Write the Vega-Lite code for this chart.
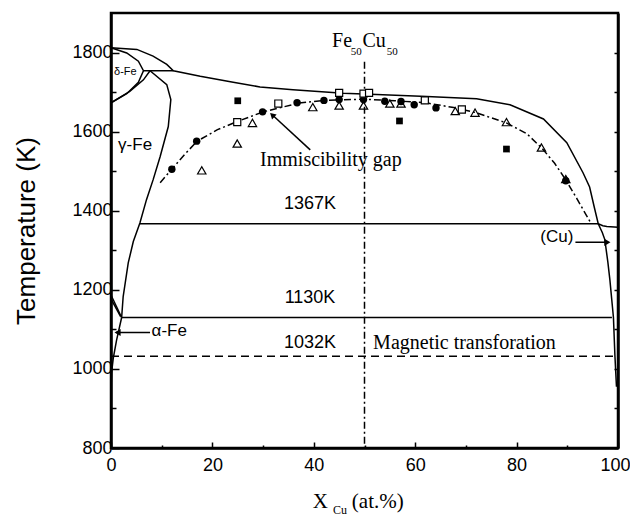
{
  "$schema": "https://vega.github.io/schema/vega-lite/v6.json",
  "width": 507,
  "height": 435,
  "autosize": {"type": "none"},
  "padding": {"left": 111, "top": 13, "right": 12, "bottom": 71},
  "background": "white",
  "config": {
    "view": {"stroke": "black", "strokeWidth": 2.5},
    "axis": {"grid": false, "domainColor": "black", "domainWidth": 2.5, "tickColor": "black", "tickWidth": 1.5, "labelColor": "black", "labelFont": "Liberation Sans", "labelFontSize": 18, "titleColor": "black", "titleFont": "Liberation Sans", "titleFontWeight": "normal", "labelFlush": false, "labelOverlap": false}
  },
  "datasets": {
    "solid": [
      {"id": "liq", "o": 1, "x": 0, "t": 1812}, {"id": "liq", "o": 2, "x": 5.1, "t": 1808}, {"id": "liq", "o": 3, "x": 8.3, "t": 1791}, {"id": "liq", "o": 4, "x": 11.0, "t": 1770}, {"id": "liq", "o": 5, "x": 12.3, "t": 1754}, {"id": "liq", "o": 6, "x": 17.6, "t": 1740}, {"id": "liq", "o": 7, "x": 24.1, "t": 1725}, {"id": "liq", "o": 8, "x": 29.4, "t": 1713}, {"id": "liq", "o": 9, "x": 35.9, "t": 1706}, {"id": "liq", "o": 10, "x": 45.8, "t": 1697}, {"id": "liq", "o": 11, "x": 52.4, "t": 1694}, {"id": "liq", "o": 12, "x": 62.3, "t": 1689}, {"id": "liq", "o": 13, "x": 72.1, "t": 1683}, {"id": "liq", "o": 14, "x": 78.7, "t": 1668}, {"id": "liq", "o": 15, "x": 85.3, "t": 1632}, {"id": "liq", "o": 16, "x": 89.9, "t": 1572}, {"id": "liq", "o": 17, "x": 93.1, "t": 1496}, {"id": "liq", "o": 18, "x": 94.4, "t": 1460}, {"id": "liq", "o": 19, "x": 95.3, "t": 1410}, {"id": "liq", "o": 20, "x": 96.1, "t": 1367}, {"id": "liq", "o": 21, "x": 97.0, "t": 1362}, {"id": "liq", "o": 22, "x": 97.8, "t": 1360}, {"id": "liq", "o": 23, "x": 100, "t": 1358},
      {"id": "per", "o": 1, "x": 6.4, "t": 1754}, {"id": "per", "o": 2, "x": 12.3, "t": 1754},
      {"id": "del", "o": 1, "x": 0, "t": 1812}, {"id": "del", "o": 2, "x": 3.1, "t": 1799}, {"id": "del", "o": 3, "x": 5.4, "t": 1778}, {"id": "del", "o": 4, "x": 6.4, "t": 1754}, {"id": "del", "o": 5, "x": 5.4, "t": 1725}, {"id": "del", "o": 6, "x": 3.1, "t": 1696}, {"id": "del", "o": 7, "x": 0, "t": 1673},
      {"id": "dg", "o": 1, "x": 0, "t": 1673}, {"id": "dg", "o": 2, "x": 3.7, "t": 1702}, {"id": "dg", "o": 3, "x": 6.4, "t": 1731}, {"id": "dg", "o": 4, "x": 7.7, "t": 1754},
      {"id": "gam", "o": 1, "x": 7.7, "t": 1754}, {"id": "gam", "o": 2, "x": 11.0, "t": 1719}, {"id": "gam", "o": 3, "x": 11.8, "t": 1681}, {"id": "gam", "o": 4, "x": 11.3, "t": 1613}, {"id": "gam", "o": 5, "x": 9.7, "t": 1537}, {"id": "gam", "o": 6, "x": 8.3, "t": 1478}, {"id": "gam", "o": 7, "x": 7.0, "t": 1428}, {"id": "gam", "o": 8, "x": 5.7, "t": 1369}, {"id": "gam", "o": 9, "x": 4.4, "t": 1322}, {"id": "gam", "o": 10, "x": 3.4, "t": 1268}, {"id": "gam", "o": 11, "x": 2.4, "t": 1183}, {"id": "gam", "o": 12, "x": 2.1, "t": 1130},
      {"id": "ag1", "o": 1, "x": 0, "t": 1187}, {"id": "ag1", "o": 2, "x": 2.1, "t": 1130},
      {"id": "ag2", "o": 1, "x": 0, "t": 1177}, {"id": "ag2", "o": 2, "x": 1.9, "t": 1132},
      {"id": "alp", "o": 1, "x": 2.1, "t": 1130}, {"id": "alp", "o": 2, "x": 1.1, "t": 1073}, {"id": "alp", "o": 3, "x": 0.45, "t": 1027}, {"id": "alp", "o": 4, "x": 0.1, "t": 989}, {"id": "alp", "o": 5, "x": 0, "t": 940},
      {"id": "h1367", "o": 1, "x": 5.7, "t": 1367}, {"id": "h1367", "o": 2, "x": 96.1, "t": 1367},
      {"id": "h1130", "o": 1, "x": 2.1, "t": 1130}, {"id": "h1130", "o": 2, "x": 98.8, "t": 1130},
      {"id": "cus", "o": 1, "x": 96.1, "t": 1367}, {"id": "cus", "o": 2, "x": 96.9, "t": 1345}, {"id": "cus", "o": 3, "x": 97.4, "t": 1327}, {"id": "cus", "o": 4, "x": 98.0, "t": 1270}, {"id": "cus", "o": 5, "x": 98.4, "t": 1225}, {"id": "cus", "o": 6, "x": 99.1, "t": 1130}, {"id": "cus", "o": 7, "x": 99.4, "t": 1031}, {"id": "cus", "o": 8, "x": 99.7, "t": 955},
      {"id": "arA", "o": 1, "x": 7.7, "t": 1092}, {"id": "arA", "o": 2, "x": 1.0, "t": 1092},
      {"id": "arC", "o": 1, "x": 91.6, "t": 1320}, {"id": "arC", "o": 2, "x": 98.0, "t": 1320},
      {"id": "arI", "o": 1, "x": 39.3, "t": 1554}, {"id": "arI", "o": 2, "x": 32.0, "t": 1640}
    ],
    "dashed": [
      {"id": "mag", "o": 1, "x": 0, "t": 1032}, {"id": "mag", "o": 2, "x": 99.4, "t": 1032}
    ],
    "dashdot": [
      {"id": "v50", "o": 1, "x": 50, "t": 1777}, {"id": "v50", "o": 2, "x": 50, "t": 800},
      {"id": "gap", "o": 1, "x": 9.7, "t": 1471}, {"id": "gap", "o": 2, "x": 12, "t": 1505}, {"id": "gap", "o": 3, "x": 14.5, "t": 1542}, {"id": "gap", "o": 4, "x": 17, "t": 1576}, {"id": "gap", "o": 5, "x": 21, "t": 1605}, {"id": "gap", "o": 6, "x": 25, "t": 1626}, {"id": "gap", "o": 7, "x": 30, "t": 1650}, {"id": "gap", "o": 8, "x": 37, "t": 1672}, {"id": "gap", "o": 9, "x": 42, "t": 1679}, {"id": "gap", "o": 10, "x": 50, "t": 1682}, {"id": "gap", "o": 11, "x": 56, "t": 1678}, {"id": "gap", "o": 12, "x": 62, "t": 1673}, {"id": "gap", "o": 13, "x": 68, "t": 1660}, {"id": "gap", "o": 14, "x": 72, "t": 1648}, {"id": "gap", "o": 15, "x": 78, "t": 1622}, {"id": "gap", "o": 16, "x": 82, "t": 1595}, {"id": "gap", "o": 17, "x": 85, "t": 1558}, {"id": "gap", "o": 18, "x": 87.5, "t": 1520}, {"id": "gap", "o": 19, "x": 89.7, "t": 1478}, {"id": "gap", "o": 20, "x": 92, "t": 1428}, {"id": "gap", "o": 21, "x": 94.5, "t": 1372}
    ],
    "heads": [
      {"id": "A", "x": 1.3, "t": 1092},
      {"id": "C", "x": 97.9, "t": 1320},
      {"id": "I", "x": 31.8, "t": 1642}
    ],
    "pts": [
      {"kind": "fc", "x": 12.0, "t": 1505}, {"kind": "fc", "x": 16.9, "t": 1576}, {"kind": "fc", "x": 29.9, "t": 1650}, {"kind": "fc", "x": 36.7, "t": 1673}, {"kind": "fc", "x": 42.0, "t": 1679}, {"kind": "fc", "x": 45.0, "t": 1681}, {"kind": "fc", "x": 49.8, "t": 1681}, {"kind": "fc", "x": 54.0, "t": 1677}, {"kind": "fc", "x": 57.2, "t": 1676}, {"kind": "fc", "x": 59.8, "t": 1668}, {"kind": "fc", "x": 64.1, "t": 1660}, {"kind": "fc", "x": 89.7, "t": 1476},
      {"kind": "ot", "x": 17.9, "t": 1502}, {"kind": "ot", "x": 24.9, "t": 1570}, {"kind": "ot", "x": 27.9, "t": 1622}, {"kind": "ot", "x": 39.8, "t": 1662}, {"kind": "ot", "x": 45.0, "t": 1666}, {"kind": "ot", "x": 49.8, "t": 1666}, {"kind": "ot", "x": 55.0, "t": 1671}, {"kind": "ot", "x": 57.2, "t": 1671}, {"kind": "ot", "x": 67.9, "t": 1652}, {"kind": "ot", "x": 71.8, "t": 1648}, {"kind": "ot", "x": 78.0, "t": 1624}, {"kind": "ot", "x": 84.9, "t": 1560}, {"kind": "ot", "x": 89.7, "t": 1480},
      {"kind": "os", "x": 24.9, "t": 1624}, {"kind": "os", "x": 33.0, "t": 1671}, {"kind": "os", "x": 45.0, "t": 1698}, {"kind": "os", "x": 49.8, "t": 1696}, {"kind": "os", "x": 50.9, "t": 1698}, {"kind": "os", "x": 61.9, "t": 1679}, {"kind": "os", "x": 69.2, "t": 1656},
      {"kind": "fs", "x": 25.0, "t": 1678}, {"kind": "fs", "x": 56.9, "t": 1627}, {"kind": "fs", "x": 78.0, "t": 1556}
    ],
    "labels": [
      {"g": "k", "x": 39.25, "t": 1404, "text": "1367K"},
      {"g": "k", "x": 39.25, "t": 1167, "text": "1130K"},
      {"g": "k", "x": 39.25, "t": 1053, "text": "1032K"},
      {"g": "ph", "x": 1.4, "t": 1553, "text": "γ-Fe"},
      {"g": "ph", "x": 8.0, "t": 1084, "text": "α-Fe"},
      {"g": "cu", "x": 91.2, "t": 1322, "text": "(Cu)"},
      {"g": "d", "x": 0.6, "t": 1744, "text": "δ-Fe"},
      {"g": "s", "x": 29.4, "t": 1512, "text": "Immiscibility gap"},
      {"g": "s", "x": 51.7, "t": 1051, "text": "Magnetic transforation"},
      {"g": "f", "x": 43.6, "t": 1815, "text": "Fe"},
      {"g": "f", "x": 49.6, "t": 1815, "text": "Cu"},
      {"g": "fs", "x": 47.3, "t": 1795, "text": "50"},
      {"g": "fs", "x": 54.4, "t": 1795, "text": "50"},
      {"g": "xt", "x": 39.8, "t": 648, "text": "X"},
      {"g": "xt", "x": 47.5, "t": 648, "text": "(at.%)"},
      {"g": "xs", "x": 43.8, "t": 633, "text": "Cu"}
    ]
  },
  "encoding": {
    "x": {"field": "x", "type": "quantitative", "scale": {"domain": [0, 100], "nice": false, "zero": false},
      "axis": {"orient": "bottom", "values": [0, 10, 20, 30, 40, 50, 60, 70, 80, 90, 100], "labelExpr": "datum.value % 20 === 0 ? datum.label : ''", "tickSize": {"condition": {"test": "datum.value % 20 === 0", "value": -6}, "value": -3}, "labelPadding": 14, "labelAlign": {"condition": {"test": "datum.value === 100", "value": "right"}, "value": "center"}, "labelOffset": {"condition": {"test": "datum.value === 100", "value": 12}, "value": 0}, "title": null}}
  },
  "resolve": {"axis": {"y": "independent"}},
  "layer": [
    {
      "data": {"name": "solid"},
      "mark": {"type": "line", "color": "black", "strokeWidth": 1.5},
      "encoding": {
        "y": {"field": "t", "type": "quantitative", "scale": {"domain": [800, 1900], "nice": false, "zero": false},
          "axis": {"orient": "left", "values": [800, 900, 1000, 1100, 1200, 1300, 1400, 1500, 1600, 1700, 1800], "format": "d", "labelExpr": "datum.value % 200 === 0 ? datum.label : ''", "tickSize": {"condition": {"test": "datum.value % 200 === 0", "value": -8}, "value": -5}, "labelPadding": 7, "title": "Temperature (K)", "titleFontSize": 26, "titlePadding": 32}},
        "detail": {"field": "id"},
        "order": {"field": "o"}
      }
    },
    {
      "data": {"name": "solid"},
      "transform": [{"filter": "datum.id === 'zzz'"}],
      "mark": {"type": "line", "color": "black"},
      "encoding": {
        "y": {"field": "t", "type": "quantitative", "scale": {"domain": [800, 1900], "nice": false, "zero": false},
          "axis": {"orient": "right", "values": [800, 900, 1000, 1100, 1200, 1300, 1400, 1500, 1600, 1700, 1800], "labels": false, "tickSize": -4, "title": null}}
      }
    },
    {
      "data": {"name": "dashed"},
      "mark": {"type": "line", "color": "black", "strokeWidth": 1.5, "strokeDash": [8, 5]},
      "encoding": {
        "y": {"field": "t", "type": "quantitative", "scale": {"domain": [800, 1900], "nice": false, "zero": false}, "axis": null},
        "order": {"field": "o"}
      }
    },
    {
      "data": {"name": "dashdot"},
      "mark": {"type": "line", "color": "black", "strokeWidth": 1.5, "strokeDash": [7, 3, 2, 3]},
      "encoding": {
        "y": {"field": "t", "type": "quantitative", "scale": {"domain": [800, 1900], "nice": false, "zero": false}, "axis": null},
        "detail": {"field": "id"},
        "order": {"field": "o"}
      }
    },
    {
      "data": {"name": "heads"},
      "transform": [{"filter": "datum.id === 'A'"}],
      "mark": {"type": "point", "shape": "triangle-left", "filled": true, "color": "black", "size": 50, "opacity": 1},
      "encoding": {"y": {"field": "t", "type": "quantitative", "scale": {"domain": [800, 1900], "nice": false, "zero": false}, "axis": null}}
    },
    {
      "data": {"name": "heads"},
      "transform": [{"filter": "datum.id === 'C'"}],
      "mark": {"type": "point", "shape": "triangle-right", "filled": true, "color": "black", "size": 50, "opacity": 1},
      "encoding": {"y": {"field": "t", "type": "quantitative", "scale": {"domain": [800, 1900], "nice": false, "zero": false}, "axis": null}}
    },
    {
      "data": {"name": "heads"},
      "transform": [{"filter": "datum.id === 'I'"}],
      "mark": {"type": "point", "shape": "triangle-up", "angle": 313, "filled": true, "color": "black", "size": 45, "opacity": 1},
      "encoding": {"y": {"field": "t", "type": "quantitative", "scale": {"domain": [800, 1900], "nice": false, "zero": false}, "axis": null}}
    },
    {
      "data": {"name": "pts"},
      "transform": [{"filter": "datum.kind === 'fc'"}],
      "mark": {"type": "point", "shape": "circle", "filled": true, "color": "black", "size": 55, "opacity": 1},
      "encoding": {"y": {"field": "t", "type": "quantitative", "scale": {"domain": [800, 1900], "nice": false, "zero": false}, "axis": null}}
    },
    {
      "data": {"name": "pts"},
      "transform": [{"filter": "datum.kind === 'fs'"}],
      "mark": {"type": "point", "shape": "square", "filled": true, "color": "black", "size": 45, "opacity": 1},
      "encoding": {"y": {"field": "t", "type": "quantitative", "scale": {"domain": [800, 1900], "nice": false, "zero": false}, "axis": null}}
    },
    {
      "data": {"name": "pts"},
      "transform": [{"filter": "datum.kind === 'ot'"}],
      "mark": {"type": "point", "shape": "triangle-up", "filled": false, "color": "black", "strokeWidth": 1.2, "size": 70, "opacity": 1},
      "encoding": {"y": {"field": "t", "type": "quantitative", "scale": {"domain": [800, 1900], "nice": false, "zero": false}, "axis": null}}
    },
    {
      "data": {"name": "pts"},
      "transform": [{"filter": "datum.kind === 'os'"}],
      "mark": {"type": "point", "shape": "square", "filled": false, "fill": "white", "color": "black", "stroke": "black", "strokeWidth": 1.2, "size": 50, "opacity": 1},
      "encoding": {"y": {"field": "t", "type": "quantitative", "scale": {"domain": [800, 1900], "nice": false, "zero": false}, "axis": null}}
    },
    {
      "data": {"name": "labels"},
      "transform": [{"filter": "datum.g === 'k'"}],
      "mark": {"type": "text", "font": "Liberation Sans", "fontSize": 18, "align": "center", "baseline": "alphabetic", "color": "black"},
      "encoding": {"y": {"field": "t", "type": "quantitative", "scale": {"domain": [800, 1900], "nice": false, "zero": false}, "axis": null}, "text": {"field": "text"}}
    },
    {
      "data": {"name": "labels"},
      "transform": [{"filter": "datum.g === 'ph'"}],
      "mark": {"type": "text", "font": "Liberation Sans", "fontSize": 17, "align": "left", "baseline": "alphabetic", "color": "black"},
      "encoding": {"y": {"field": "t", "type": "quantitative", "scale": {"domain": [800, 1900], "nice": false, "zero": false}, "axis": null}, "text": {"field": "text"}}
    },
    {
      "data": {"name": "labels"},
      "transform": [{"filter": "datum.g === 'cu'"}],
      "mark": {"type": "text", "font": "Liberation Sans", "fontSize": 17, "align": "right", "baseline": "alphabetic", "color": "black"},
      "encoding": {"y": {"field": "t", "type": "quantitative", "scale": {"domain": [800, 1900], "nice": false, "zero": false}, "axis": null}, "text": {"field": "text"}}
    },
    {
      "data": {"name": "labels"},
      "transform": [{"filter": "datum.g === 'd'"}],
      "mark": {"type": "text", "font": "Liberation Sans", "fontSize": 11, "align": "left", "baseline": "alphabetic", "color": "black"},
      "encoding": {"y": {"field": "t", "type": "quantitative", "scale": {"domain": [800, 1900], "nice": false, "zero": false}, "axis": null}, "text": {"field": "text"}}
    },
    {
      "data": {"name": "labels"},
      "transform": [{"filter": "datum.g === 's'"}],
      "mark": {"type": "text", "font": "Liberation Serif", "fontSize": 20, "align": "left", "baseline": "alphabetic", "color": "black"},
      "encoding": {"y": {"field": "t", "type": "quantitative", "scale": {"domain": [800, 1900], "nice": false, "zero": false}, "axis": null}, "text": {"field": "text"}}
    },
    {
      "data": {"name": "labels"},
      "transform": [{"filter": "datum.g === 'f'"}],
      "mark": {"type": "text", "font": "Liberation Serif", "fontSize": 20, "align": "left", "baseline": "alphabetic", "color": "black"},
      "encoding": {"y": {"field": "t", "type": "quantitative", "scale": {"domain": [800, 1900], "nice": false, "zero": false}, "axis": null}, "text": {"field": "text"}}
    },
    {
      "data": {"name": "labels"},
      "transform": [{"filter": "datum.g === 'fs'"}],
      "mark": {"type": "text", "font": "Liberation Serif", "fontSize": 11, "align": "left", "baseline": "alphabetic", "color": "black"},
      "encoding": {"y": {"field": "t", "type": "quantitative", "scale": {"domain": [800, 1900], "nice": false, "zero": false}, "axis": null}, "text": {"field": "text"}}
    },
    {
      "data": {"name": "labels"},
      "transform": [{"filter": "datum.g === 'xt'"}],
      "mark": {"type": "text", "font": "Liberation Serif", "fontSize": 21, "align": "left", "baseline": "alphabetic", "color": "black"},
      "encoding": {"y": {"field": "t", "type": "quantitative", "scale": {"domain": [800, 1900], "nice": false, "zero": false}, "axis": null}, "text": {"field": "text"}}
    },
    {
      "data": {"name": "labels"},
      "transform": [{"filter": "datum.g === 'xs'"}],
      "mark": {"type": "text", "font": "Liberation Serif", "fontSize": 12, "align": "left", "baseline": "alphabetic", "color": "black"},
      "encoding": {"y": {"field": "t", "type": "quantitative", "scale": {"domain": [800, 1900], "nice": false, "zero": false}, "axis": null}, "text": {"field": "text"}}
    }
  ]
}
